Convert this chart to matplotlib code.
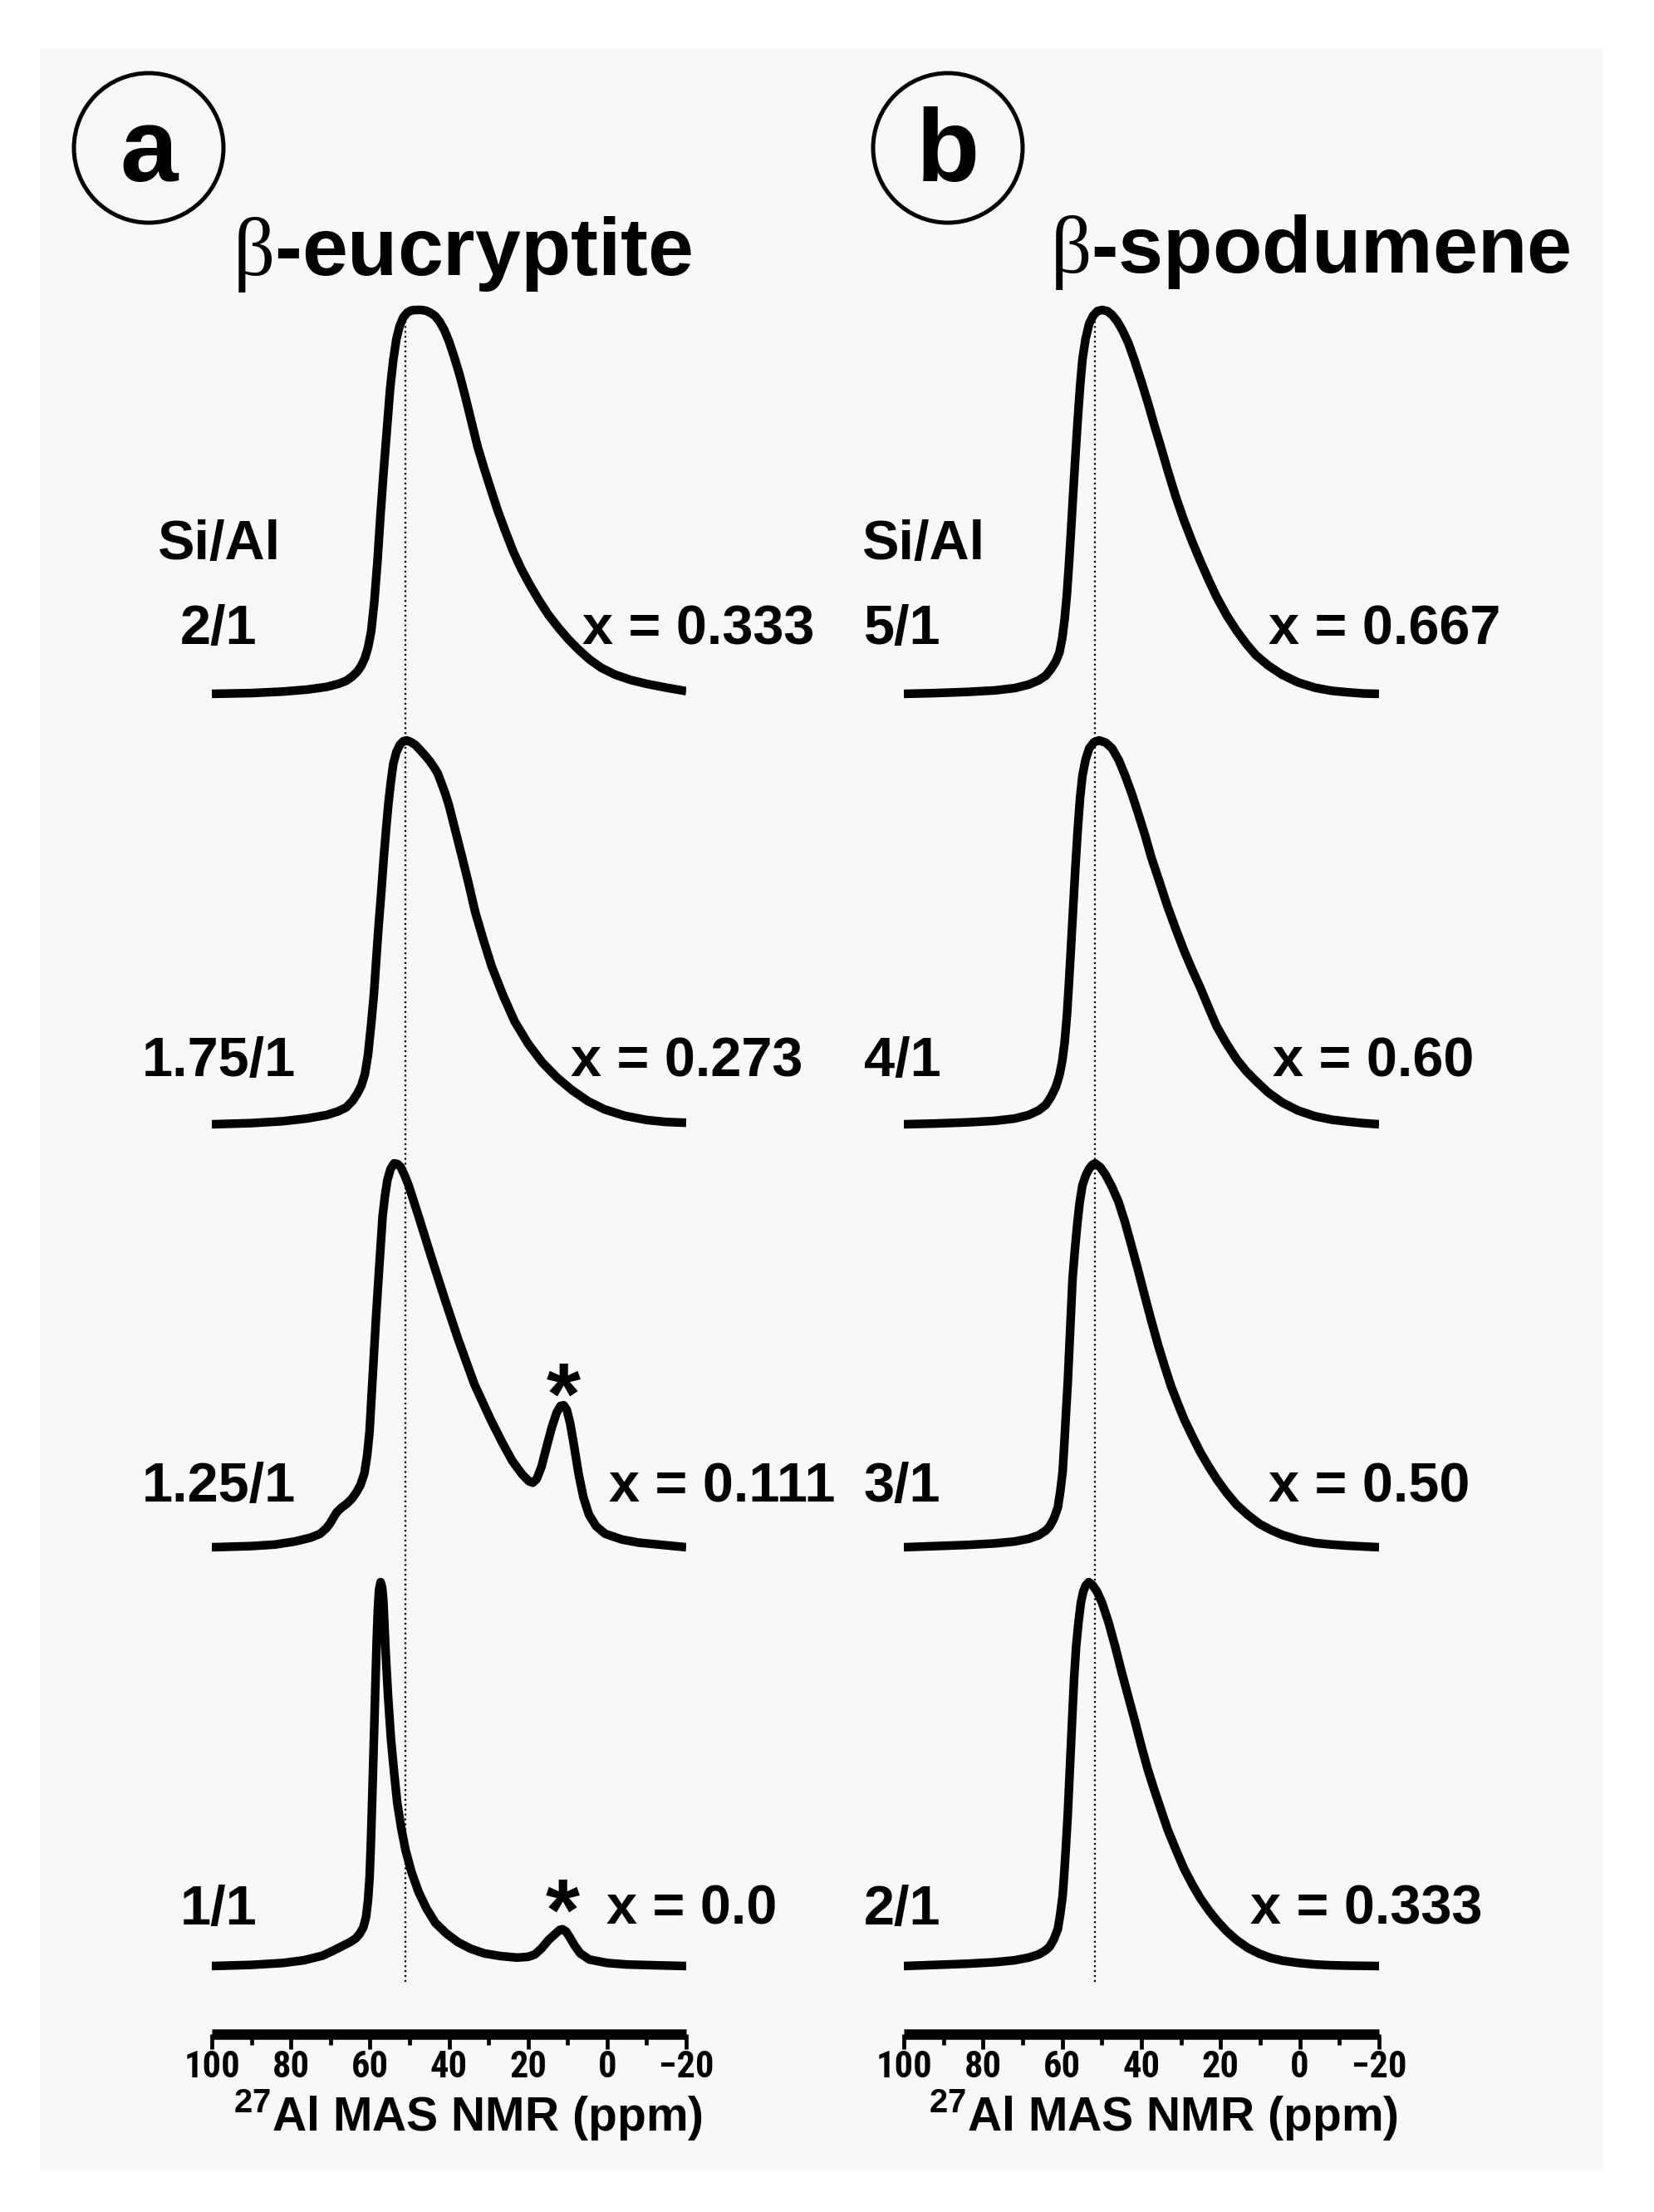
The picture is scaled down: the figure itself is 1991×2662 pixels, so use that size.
import matplotlib
matplotlib.use('Agg')
import matplotlib.pyplot as plt
from matplotlib import font_manager as fm
from matplotlib.patches import Ellipse, Rectangle

# figure size in pixels (saved at dpi 100)
W, H = 1991, 2662

plt.rcParams['font.family'] = ['Liberation Sans', 'DejaVu Sans']
plt.rcParams['mathtext.fontset'] = 'custom'
plt.rcParams['mathtext.rm'] = 'Liberation Serif'
plt.rcParams['mathtext.bf'] = 'Liberation Sans:bold'

# narrow face for the tick numbers, if one is installed
installed = {f.name for f in fm.fontManager.ttflist}
narrow = next((n for n in ['Liberation Sans Narrow', 'DejaVu Sans Condensed', 'Roboto Condensed']
               if n in installed), None)

# ---- spectra (ppm, normalised intensity) ----
# beta-eucryptite
eu_20_ppm = [100, 90, 82, 76, 71, 68, 66, 64.5, 63.2, 62.2, 61.3, 60.5, 59.7, 58.9, 58.1, 57.3, 56.5, 55.7,
             54.9, 54.1, 53.3, 52.5, 51.6, 50.6, 49.5, 48.3, 47.0, 45.8, 44.6, 43.5, 42.4, 41.2, 40.0, 38.7,
             37.3, 35.9, 34.4, 32.8, 31.2, 29.5, 27.7, 25.8, 23.8, 21.7, 19.5, 17.2, 14.8, 12.3, 9.8, 7.2,
             4.5, 1.5, -2, -6, -10, -15, -20]
eu_20_int = [0, 0.002, 0.006, 0.011, 0.018, 0.026, 0.034, 0.045, 0.058, 0.073, 0.093, 0.120, 0.162, 0.240,
             0.345, 0.471, 0.585, 0.690, 0.795, 0.870, 0.925, 0.958, 0.980, 0.993, 0.999, 1.0, 1.0, 0.998,
             0.992, 0.984, 0.970, 0.948, 0.918, 0.878, 0.830, 0.775, 0.712, 0.645, 0.590, 0.535, 0.478, 0.425,
             0.372, 0.325, 0.283, 0.243, 0.205, 0.172, 0.142, 0.115, 0.090, 0.068, 0.050, 0.036, 0.026,
             0.016, 0.007]

eu_175_ppm = [100, 90, 82, 76, 71, 68, 66, 64.4, 63.2, 62.2, 61.3, 60.5, 59.7, 59.0, 58.4, 57.8, 57.1, 56.5,
              55.9, 55.3, 54.7, 54.1, 53.3, 52.4, 51.5, 50.7, 49.7, 48.5, 47.3, 46.0, 44.8, 43.8, 42.9, 41.9,
              40.9, 40.0, 38.4, 36.7, 35.0, 33.4, 31.3, 29.2, 26.3, 23.4, 20.0, 16.4, 12.6, 8.9, 4.8, 0.7,
              -4.5, -10.1, -15, -20]
eu_175_int = [0, 0.003, 0.008, 0.015, 0.024, 0.034, 0.044, 0.061, 0.080, 0.100, 0.130, 0.180, 0.260, 0.339,
              0.430, 0.518, 0.610, 0.696, 0.770, 0.839, 0.893, 0.939, 0.970, 0.989, 0.998, 1.0, 0.996, 0.988,
              0.975, 0.960, 0.945, 0.930, 0.915, 0.888, 0.860, 0.830, 0.765, 0.696, 0.625, 0.554, 0.480,
              0.411, 0.335, 0.268, 0.210, 0.161, 0.121, 0.089, 0.060, 0.039, 0.022, 0.011, 0.006, 0.004]

eu_125_ppm = [100, 90, 84, 79, 75, 72.6, 71.0, 70.1, 69.2, 68.4, 67.2, 65.9, 64.6, 63.5, 62.4, 61.4, 60.7,
              60.1, 59.3, 58.5, 57.6, 56.8, 56.2, 55.6, 54.8, 53.9, 53.0, 52.2, 51.2, 50.2, 47.7, 44.4, 41.0,
              37.7, 33.6, 29.4, 26.5, 24.0, 21.5, 19.8, 18.8, 17.8, 16.6, 15.3, 14.0, 12.8, 11.8, 11.0, 10.2,
              9.3, 8.3, 7.2, 6.0, 4.6, 2.8, 0.5, -3.8, -8, -14, -20]
eu_125_int = [0, 0.003, 0.007, 0.015, 0.025, 0.035, 0.050, 0.062, 0.078, 0.091, 0.103, 0.113, 0.126, 0.142,
              0.162, 0.193, 0.240, 0.302, 0.447, 0.593, 0.738, 0.862, 0.915, 0.956, 0.985, 1.0, 0.998, 0.990,
              0.968, 0.942, 0.862, 0.753, 0.644, 0.542, 0.425, 0.331, 0.272, 0.225, 0.190, 0.172, 0.168,
              0.178, 0.210, 0.262, 0.312, 0.350, 0.368, 0.370, 0.358, 0.320, 0.260, 0.190, 0.130, 0.085,
              0.055, 0.035, 0.020, 0.012, 0.006, 0]

eu_10_ppm = [100, 90, 82, 76.7, 72, 69.3, 67, 65.1, 63.6, 62.6, 61.7, 61.0, 60.5, 60.1, 59.8, 59.5, 59.2,
             58.9, 58.6, 58.3, 58.0, 57.7, 57.3, 56.9, 56.6, 56.3, 56.0, 55.4, 54.7, 53.9, 53.1, 52.1, 51.0,
             49.5, 47.7, 45.7, 43.5, 40.7, 37.7, 34.5, 31.1, 27, 22.8, 20.0, 18.3, 16.6, 14.8, 13.0, 12.0,
             11.3, 10.4, 9.4, 8.2, 6.8, 4.5, 0, -5, -12, -20]
eu_10_int = [0, 0.003, 0.008, 0.015, 0.027, 0.040, 0.052, 0.062, 0.072, 0.084, 0.100, 0.127, 0.170, 0.229,
             0.310, 0.411, 0.520, 0.629, 0.740, 0.847, 0.930, 0.980, 1.0, 0.985, 0.950, 0.880, 0.811, 0.700,
             0.593, 0.505, 0.425, 0.360, 0.302, 0.245, 0.193, 0.150, 0.113, 0.085, 0.062, 0.045, 0.033,
             0.026, 0.022, 0.024, 0.030, 0.046, 0.068, 0.085, 0.094, 0.096, 0.090, 0.074, 0.053, 0.033,
             0.017, 0.008, 0.004, 0.002, 0]

# beta-spodumene
sp_50_ppm = [100, 92, 84, 77, 72, 68.5, 66, 64.2, 62.8, 61.6, 60.7, 60.0, 59.4, 58.8, 58.3, 57.8, 57.3, 56.7,
             56.1, 55.5, 54.9, 54.1, 53.2, 52.2, 51.1, 49.9, 48.6, 47.4, 46.1, 44.8, 43.3, 41.7, 40.0, 38.3,
             36.7, 35.0, 33.4, 31.4, 29.3, 27.2, 25.1, 23.0, 21.0, 18.5, 16.0, 13.5, 11.1, 8, 4.5, 0.5,
             -3.8, -8, -12.1, -16, -20]
sp_50_int = [0, 0.002, 0.005, 0.009, 0.015, 0.024, 0.035, 0.047, 0.065, 0.085, 0.108, 0.145, 0.194, 0.262,
             0.338, 0.422, 0.511, 0.615, 0.712, 0.800, 0.871, 0.925, 0.964, 0.985, 0.997, 1.0, 0.997, 0.987,
             0.970, 0.947, 0.914, 0.867, 0.813, 0.756, 0.698, 0.640, 0.583, 0.516, 0.453, 0.397, 0.345,
             0.296, 0.252, 0.205, 0.165, 0.130, 0.101, 0.074, 0.050, 0.030, 0.016, 0.008, 0.004, 0.001, 0]

sp_40_ppm = [100, 92, 84, 77, 72, 68.5, 66, 64.2, 62.8, 61.6, 60.7, 60.0, 59.4, 58.8, 58.3, 57.8, 57.3, 56.7,
             56.1, 55.5, 54.9, 54.1, 53.2, 52.0, 50.7, 49.0, 47.4, 45.7, 44.1, 42.4, 40.8, 39.1, 37.5, 35.4,
             33.4, 31.3, 29.3, 27.2, 25.1, 23.0, 21.0, 18.5, 16.0, 13.5, 11.1, 8, 4.5, 0.5, -3.8, -8, -12.1,
             -16, -20]
sp_40_int = [0, 0.002, 0.005, 0.009, 0.015, 0.024, 0.036, 0.050, 0.072, 0.098, 0.128, 0.165, 0.213, 0.285,
             0.369, 0.460, 0.553, 0.665, 0.766, 0.850, 0.908, 0.950, 0.979, 0.995, 1.0, 0.994, 0.979, 0.948,
             0.908, 0.860, 0.809, 0.753, 0.695, 0.630, 0.567, 0.508, 0.454, 0.403, 0.355, 0.303, 0.255,
             0.210, 0.170, 0.138, 0.113, 0.083, 0.057, 0.036, 0.021, 0.012, 0.007, 0.003, 0]

sp_30_ppm = [100, 92, 84, 77, 72, 68.5, 66, 64.2, 63.2, 62.1, 61.1, 60.5, 59.9, 59.5, 59.1, 58.6, 58.2, 57.8,
             57.4, 56.8, 56.2, 55.6, 54.9, 54.0, 53.2, 52.4, 51.7, 50.4, 49.1, 47.5, 45.8, 44.1, 42.5, 40.8,
             39.2, 37.5, 35.8, 34.1, 32.5, 30.8, 29.2, 27.1, 25.1, 23.0, 20.9, 18.5, 16.0, 13.1, 10.2, 7.3,
             4.4, 0.2, -3.9, -8, -12.2, -16, -20]
sp_30_int = [0, 0.003, 0.006, 0.010, 0.015, 0.022, 0.031, 0.043, 0.054, 0.075, 0.104, 0.145, 0.197, 0.265,
             0.340, 0.430, 0.520, 0.610, 0.699, 0.775, 0.842, 0.898, 0.943, 0.970, 0.986, 0.996, 1.0, 0.990,
             0.971, 0.940, 0.900, 0.845, 0.785, 0.720, 0.656, 0.590, 0.527, 0.470, 0.419, 0.374, 0.333,
             0.288, 0.247, 0.210, 0.176, 0.142, 0.111, 0.084, 0.061, 0.045, 0.032, 0.019, 0.011, 0.007,
             0.004, 0.002, 0]

sp_20_ppm = [100, 92, 84, 77, 72, 68.5, 66, 64.2, 63.2, 62.1, 61.1, 60.5, 59.9, 59.5, 59.1, 58.6, 58.2, 57.8,
             57.4, 57.0, 56.5, 55.9, 55.3, 54.7, 54.1, 53.3, 52.4, 51.2, 49.9, 48.3, 46.6, 45.0, 43.3, 41.6,
             40.0, 38.4, 36.7, 35.0, 33.4, 31.3, 29.3, 27.2, 25.1, 23.0, 21.0, 18.5, 16.0, 13.1, 10.2, 7.3,
             4.4, 0.2, -3.9, -8, -12.2, -20]
sp_20_int = [0, 0.003, 0.006, 0.010, 0.015, 0.022, 0.030, 0.041, 0.050, 0.070, 0.097, 0.135, 0.183, 0.240,
             0.306, 0.395, 0.486, 0.575, 0.665, 0.750, 0.831, 0.895, 0.946, 0.975, 0.991, 1.0, 0.993, 0.975,
             0.945, 0.895, 0.831, 0.766, 0.701, 0.636, 0.572, 0.512, 0.457, 0.405, 0.356, 0.303, 0.255,
             0.213, 0.176, 0.145, 0.119, 0.091, 0.068, 0.047, 0.032, 0.021, 0.014, 0.008, 0.004, 0.002,
             0.001, 0]

# labels
eu_ratios = ['2/1', '1.75/1', '1.25/1', '1/1']
eu_x = ['x = 0.333', 'x = 0.273', 'x = 0.111', 'x = 0.0']
sp_ratios = ['5/1', '4/1', '3/1', '2/1']
sp_x = ['x = 0.667', 'x = 0.60', 'x = 0.50', 'x = 0.333']

# satellite peak marked with *: row -> (ppm, intensity, offset in points)
eu_star = {2: (11.0, 0.370, -16), 3: (11.3, 0.096, -9)}

ref_eu = 51.0   # dotted reference lines (ppm)
ref_sp = 51.7

tick_pos = [100, 80, 60, 40, 20, 0, -20]
tick_txt = ['100', '80', '60', '40', '20', '0', '\u221220']

# ---- layout (pixels) ----
SPINE = 2448
TOP = 300
BASE = [835, 1353, 1862, 2366]
PEAK = 462
LW = 7.5


def fx(x):
    return x / W


def fy(y):
    return 1 - y / H


fig = plt.figure(figsize=(W / 100, H / 100), dpi=100)
fig.patches.append(Rectangle((fx(48), fy(2612)), (1930 - 48) / W, (2612 - 58) / H,
                             transform=fig.transFigure, facecolor='#f8f8f8', edgecolor='none', zorder=-10))


def make_panel(x0, x1, spectra, ref):
    ax = fig.add_axes([fx(x0), fy(SPINE), (x1 - x0) / W, (SPINE - TOP) / H])
    ax.set_facecolor('none')
    for s in ['left', 'right', 'top']:
        ax.spines[s].set_visible(False)
    ax.spines['bottom'].set_linewidth(9)
    ax.spines['bottom'].set_capstyle('butt')
    ax.set_xlim(100, -20)
    ax.set_ylim(0, SPINE - TOP)
    ax.set_yticks([])
    ax.set_xticks(tick_pos, labels=tick_txt)
    ax.set_xticks(range(90, -20, -20), minor=True)
    ax.tick_params(axis='x', which='major', length=13, width=3.4, pad=1, direction='out')
    ax.tick_params(axis='x', which='minor', length=9, width=3.4, direction='out')
    for lab in ax.get_xticklabels():
        lab.set_fontweight('bold')
        if narrow:
            lab.set_family([narrow, 'Liberation Sans'])
            lab.set_fontsize(32)
        else:
            lab.set_fontsize(25)
    for i, (p, v) in enumerate(spectra):
        off = SPINE - BASE[i]
        ax.plot(p, [off + PEAK * t for t in v], color='black', lw=LW,
                solid_joinstyle='round', solid_capstyle='butt', zorder=3)
    ax.plot([ref, ref], [SPINE - 2385, SPINE - 372], color='black', lw=1.6, ls=':', zorder=2)
    return ax


ax_a = make_panel(255, 826, [(eu_20_ppm, eu_20_int), (eu_175_ppm, eu_175_int),
                             (eu_125_ppm, eu_125_int), (eu_10_ppm, eu_10_int)], ref_eu)
ax_b = make_panel(1088, 1660, [(sp_50_ppm, sp_50_int), (sp_40_ppm, sp_40_int),
                               (sp_30_ppm, sp_30_int), (sp_20_ppm, sp_20_int)], ref_sp)

# stars over the spinning side band
for i, (p, v, dy) in eu_star.items():
    ax_a.annotate('*', (p, SPINE - BASE[i] + PEAK * v), xytext=(0, dy), textcoords='offset points',
                  ha='center', va='baseline', fontsize=76, fontweight='bold')

# panel letters in circles
for cx, letter in [(179, 'a'), (1141, 'b')]:
    fig.patches.append(Ellipse((fx(cx), fy(178)), 180 / W, 180 / H, transform=fig.transFigure,
                               facecolor='none', edgecolor='black', lw=3.6))
    fig.text(fx(cx), fy(218), letter, ha='center', va='baseline', fontsize=90, fontweight='bold')

# titles
fig.text(fx(280), fy(331), r'$\mathrm{\beta}$-eucryptite', ha='left', va='baseline',
         fontsize=71, fontweight='bold')
fig.text(fx(1264), fy(328), r'$\mathrm{\beta}$-spodumene', ha='left', va='baseline',
         fontsize=70, fontweight='bold')

# row labels
ROW_Y = [775, 1295, 1807, 2316]
LAB = dict(fontsize=48, fontweight='bold', va='baseline')
fig.text(fx(263), fy(673), 'Si/Al', ha='center', **LAB)
fig.text(fx(1037), fy(673), 'Si/Al', ha='left', **LAB)
eu_xpos = [701, 687, 733, 730]
sp_xpos = [1527, 1532, 1527, 1505]
for i in range(4):
    fig.text(fx(263), fy(ROW_Y[i]), eu_ratios[i], ha='center', **LAB)
    fig.text(fx(eu_xpos[i]), fy(ROW_Y[i]), eu_x[i], ha='left', **LAB)
    fig.text(fx(1040), fy(ROW_Y[i]), sp_ratios[i], ha='left', **LAB)
    fig.text(fx(sp_xpos[i]), fy(ROW_Y[i]), sp_x[i], ha='left', **LAB)

# axis titles
for cx in [563, 1400]:
    fig.text(fx(cx), fy(2546), r'$^{\mathbf{27}}$Al MAS NMR (ppm)', ha='center', va='center',
             fontsize=41, fontweight='bold')

fig.savefig('out.png', dpi=100, facecolor='white')
